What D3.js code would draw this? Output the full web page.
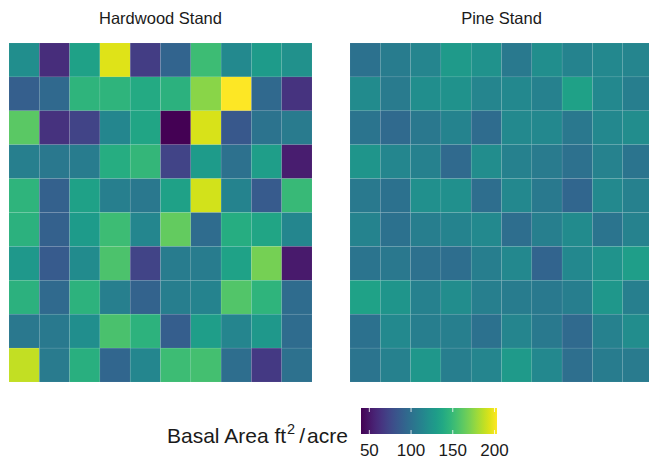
<!DOCTYPE html>
<html>
<head>
<meta charset="utf-8">
<script src="https://cdn.jsdelivr.net/npm/d3@7"></script>
<style>
  html, body { margin: 0; padding: 0; background: #fff; }
  svg { display: block; font-family: "Liberation Sans", Arial, sans-serif; }
</style>
</head>
<body>
<svg id="chart" width="649" height="461"></svg>
<script>
// Basal area (ft^2/acre) per 10x10 plot grid, row by row from the top
const hardwood = [
  [120,  61, 133, 195,  69,  92, 152, 117, 129, 122],
  [ 89,  95, 146, 146, 139, 144, 174, 203,  95,  64],
  [161,  63,  73, 115, 136,  40, 193,  84, 102, 107],
  [110, 105, 108, 141, 148,  73, 129, 100, 131,  53],
  [146,  90, 133, 110, 105, 133, 192, 113,  86, 150],
  [144,  90, 129, 152, 115, 164,  97, 141, 136, 115],
  [127,  86, 118, 157,  73, 108, 108, 134, 169,  51],
  [144,  96, 145, 110,  91, 109, 113, 159, 146,  97],
  [105, 106, 120, 156, 145,  88, 131, 114, 127,  97],
  [188, 107, 143,  93, 115, 152, 154,  98,  67, 100]
];
const pine = [
  [101, 108, 114, 128, 123, 106, 120, 113, 116, 114],
  [118, 107, 120, 123, 114, 116, 111, 133, 116, 109],
  [103,  96, 105, 113,  97, 117, 116, 105, 116, 119],
  [125, 115, 111,  96, 119, 111, 107, 100, 112, 103],
  [106, 101, 121, 121,  98, 116, 106,  93, 117, 111],
  [113, 101, 109, 113, 117,  98, 110, 118, 103, 112],
  [103, 105, 100,  98, 109, 116,  92, 116, 124, 131],
  [134, 125, 111, 119, 110, 108, 106, 109, 126, 110],
  [101, 117, 109, 110, 101, 114, 106,  96, 111, 119],
  [103, 111, 126, 109, 114, 128, 116,  99, 108, 107]
];
const stands = ["Hardwood Stand", "Pine Stand"];
const legendTicks = [50, 100, 150, 200];
const valueRange = [40, 203];

const svg = d3.select("#chart");

const color = d3.scaleSequential(d3.interpolateViridis).domain(valueRange);

const panelW = 303, panelH = 339, panelTop = 43;
const panelX = [9, 350];
const idx = d3.range(10);

[hardwood, pine].forEach((grid, p) => {
  const x = d3.scaleBand().domain(idx).range([panelX[p], panelX[p] + panelW]);
  const y = d3.scaleBand().domain(idx).range([panelTop, panelTop + panelH]);

  const cells = grid.flatMap((row, r) => row.map((v, c) => ({ r, c, v })));

  svg.append("g")
    .selectAll("rect")
    .data(cells)
    .join("rect")
      .attr("x", d => x(d.c))
      .attr("y", d => y(d.r))
      .attr("width", x.bandwidth())
      .attr("height", y.bandwidth())
      .attr("fill", d => color(d.v))
      .attr("stroke", "#ffffff")
      .attr("stroke-opacity", 0.1)
      .attr("stroke-width", 0.6);

  svg.append("text")
    .attr("x", panelX[p] + panelW / 2)
    .attr("y", 24)
    .attr("text-anchor", "middle")
    .style("font-size", "16.5px")
    .style("fill", "#1a1a1a")
    .text(stands[p]);
});

// colour bar legend
const lx = d3.scaleLinear().domain(valueRange).range([361, 497]);
const barTop = 408, barH = 26;

const grad = svg.append("defs").append("linearGradient")
  .attr("id", "viridisGrad")
  .attr("x1", "0%").attr("x2", "100%");
grad.selectAll("stop")
  .data(d3.range(0, 1.0001, 0.05))
  .join("stop")
    .attr("offset", d => (d * 100) + "%")
    .attr("stop-color", d => color(valueRange[0] + d * (valueRange[1] - valueRange[0])));

svg.append("rect")
  .attr("x", lx(valueRange[0]))
  .attr("y", barTop)
  .attr("width", lx(valueRange[1]) - lx(valueRange[0]))
  .attr("height", barH)
  .attr("fill", "url(#viridisGrad)");

const tickG = svg.append("g");
legendTicks.forEach(t => {
  tickG.append("line")
    .attr("x1", lx(t)).attr("x2", lx(t))
    .attr("y1", barTop).attr("y2", barTop + 4)
    .attr("stroke", "#fff").attr("stroke-width", 0.8);
  tickG.append("line")
    .attr("x1", lx(t)).attr("x2", lx(t))
    .attr("y1", barTop + barH - 4).attr("y2", barTop + barH)
    .attr("stroke", "#fff").attr("stroke-width", 0.8);
});

svg.append("g")
  .selectAll("text")
  .data(legendTicks)
  .join("text")
    .attr("x", d => lx(d))
    .attr("y", 456)
    .attr("text-anchor", "middle")
    .style("font-size", "17px")
    .style("fill", "#1a1a1a")
    .text(d => d);

// legend title with superscript, plotmath-like spacing around the slash
const title = svg.append("text")
  .attr("x", 167)
  .attr("y", 443)
  .style("font-size", "21px")
  .style("fill", "#1a1a1a");
title.append("tspan").text("Basal Area ft");
title.append("tspan").attr("dy", -9).attr("dx", 1).style("font-size", "14.5px").text("2");
title.append("tspan").attr("dy", 9).attr("dx", 4).text("/");
title.append("tspan").attr("dx", 2).text("acre");
</script>
</body>
</html>
